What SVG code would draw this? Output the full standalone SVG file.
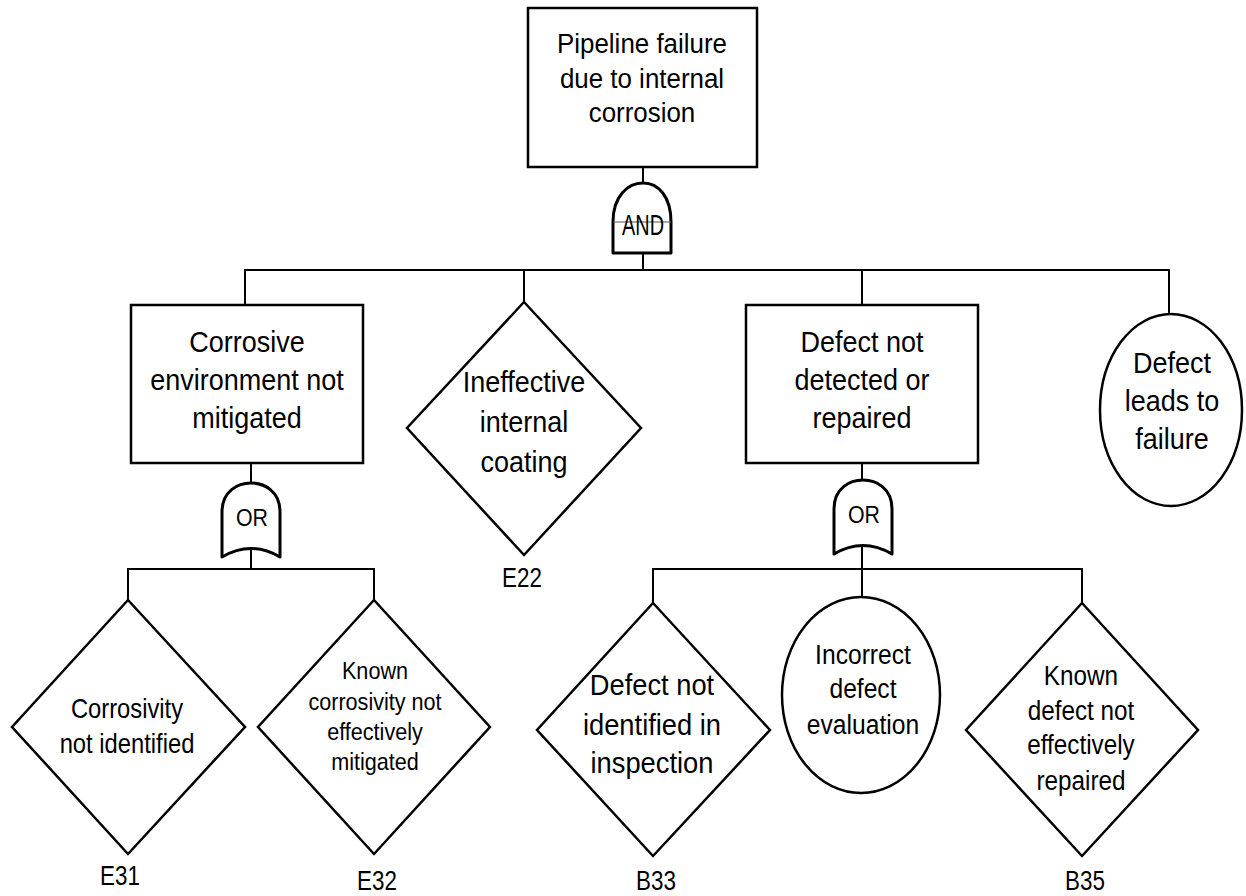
<svg xmlns="http://www.w3.org/2000/svg" width="1246" height="896" viewBox="0 0 1246 896">
<style>
  .shape { fill: #ffffff; stroke: #000000; stroke-width: 2.5; }
  .gate { fill: #ffffff; stroke: #000000; stroke-width: 3; stroke-linejoin: round; }
  .conn { fill: none; stroke: #000000; stroke-width: 2; }
  text { font-family: "Liberation Sans", Arial, sans-serif; fill: #000000; text-anchor: middle; }
  .t27 { font-size: 27px; }
  .t30 { font-size: 30px; }
  .t28 { font-size: 28px; }
  .t24 { font-size: 24px; }
  .lbl { font-size: 27px; }
</style>
<defs>
  <path id="orgate" d="M-29,74 L-29,29 C-29,8 -13,0 0,0 C13,0 29,8 29,29 L29,74 Q0,57 -29,74 Z"/>
</defs>

<g id="connectors">
  <path class="conn" d="M643,167 V183"/>
  <path class="conn" d="M643,253 V270"/>
  <path class="conn" d="M245,305 V270 H1169 V313"/>
  <path class="conn" d="M524,270 V302"/>
  <path class="conn" d="M862,270 V305"/>
  <path class="conn" d="M251,463 V483"/>
  <path class="conn" d="M251,549 V569"/>
  <path class="conn" d="M128,600 V569 H374 V600"/>
  <path class="conn" d="M862,463 V480"/>
  <path class="conn" d="M862,546 V597"/>
  <path class="conn" d="M653,603 V569 H1082 V603"/>
</g>

<g id="top-event">
  <rect class="shape" x="528" y="8" width="229" height="159"/>
  <g transform="translate(642 0) scale(0.96 1) translate(-642 0)">
    <text class="t27" x="642" y="53">Pipeline failure</text>
    <text class="t27" x="642" y="88">due to internal</text>
    <text class="t27" x="642" y="122">corrosion</text>
  </g>
</g>

<g id="and-gate">
  <path class="gate" d="M613,253 L613,222 C613,196 628,183 643,183 C658,183 671,196 671,222 L671,253 Z"/>
  <line x1="613" y1="222" x2="671" y2="222" stroke="#555555" stroke-width="1"/>
  <text x="643" y="235" style="font-size:29px" textLength="42" lengthAdjust="spacingAndGlyphs">AND</text>
</g>

<g id="corrosive-env">
  <rect class="shape" x="131" y="305" width="232" height="158"/>
  <g transform="translate(247 0) scale(0.9 1) translate(-247 0)">
    <text class="t30" x="247" y="352">Corrosive</text>
    <text class="t30" x="247" y="390">environment not</text>
    <text class="t30" x="247" y="428">mitigated</text>
  </g>
</g>

<g id="or-gate-left">
  <use href="#orgate" class="gate" transform="translate(251,483)"/>
  <text x="252" y="526" style="font-size:24px" textLength="32" lengthAdjust="spacingAndGlyphs">OR</text>
</g>

<g id="e22">
  <polygon class="shape" points="524,302 641,428 524,555 407,428"/>
  <g transform="translate(524 0) scale(0.9 1) translate(-524 0)">
    <text class="t30" x="524" y="392">Ineffective</text>
    <text class="t30" x="524" y="432">internal</text>
    <text class="t30" x="524" y="472">coating</text>
  </g>
  <g transform="translate(522 0) scale(0.83 1) translate(-522 0)">
    <text class="lbl" x="522" y="587">E22</text>
  </g>
</g>

<g id="defect-not-detected">
  <rect class="shape" x="746" y="305" width="232" height="158"/>
  <g transform="translate(862 0) scale(0.9 1) translate(-862 0)">
    <text class="t30" x="862" y="352">Defect not</text>
    <text class="t30" x="862" y="390">detected or</text>
    <text class="t30" x="862" y="428">repaired</text>
  </g>
</g>

<g id="or-gate-right">
  <use href="#orgate" class="gate" transform="translate(863,480)"/>
  <text x="864" y="523" style="font-size:24px" textLength="32" lengthAdjust="spacingAndGlyphs">OR</text>
</g>

<g id="defect-leads">
  <ellipse class="shape" cx="1171" cy="410" rx="71" ry="96"/>
  <g transform="translate(1172 0) scale(0.9 1) translate(-1172 0)">
    <text class="t30" x="1172" y="373">Defect</text>
    <text class="t30" x="1172" y="411">leads to</text>
    <text class="t30" x="1172" y="449">failure</text>
  </g>
</g>

<g id="e31">
  <polygon class="shape" points="128,600 245,727 128,854 12,727"/>
  <g transform="translate(127 0) scale(0.88 1) translate(-127 0)">
    <text class="t27" x="127" y="718">Corrosivity</text>
    <text class="t27" x="127" y="753">not identified</text>
  </g>
  <g transform="translate(120 0) scale(0.83 1) translate(-120 0)">
    <text class="lbl" x="120" y="885">E31</text>
  </g>
</g>

<g id="e32">
  <polygon class="shape" points="374,600 490,727 374,854 258,727"/>
  <g transform="translate(375 0) scale(0.9 1) translate(-375 0)">
    <text class="t24" x="375" y="679">Known</text>
    <text class="t24" x="375" y="710">corrosivity not</text>
    <text class="t24" x="375" y="740">effectively</text>
    <text class="t24" x="375" y="770">mitigated</text>
  </g>
  <g transform="translate(377 0) scale(0.83 1) translate(-377 0)">
    <text class="lbl" x="377" y="890">E32</text>
  </g>
</g>

<g id="b33">
  <polygon class="shape" points="653,603 770,730 653,856 537,730"/>
  <g transform="translate(652 0) scale(0.91 1) translate(-652 0)">
    <text class="t30" x="652" y="695">Defect not</text>
    <text class="t30" x="652" y="735">identified in</text>
    <text class="t30" x="652" y="773">inspection</text>
  </g>
  <g transform="translate(656 0) scale(0.83 1) translate(-656 0)">
    <text class="lbl" x="656" y="890">B33</text>
  </g>
</g>

<g id="incorrect-eval">
  <ellipse class="shape" cx="861" cy="695" rx="79" ry="98"/>
  <g transform="translate(863 0) scale(0.88 1) translate(-863 0)">
    <text class="t28" x="863" y="664">Incorrect</text>
    <text class="t28" x="863" y="698">defect</text>
    <text class="t28" x="863" y="734">evaluation</text>
  </g>
</g>

<g id="b35">
  <polygon class="shape" points="1082,603 1198,730 1082,856 966,730"/>
  <g transform="translate(1081 0) scale(0.9 1) translate(-1081 0)">
    <text class="t27" x="1081" y="685">Known</text>
    <text class="t27" x="1081" y="720">defect not</text>
    <text class="t27" x="1081" y="754">effectively</text>
    <text class="t27" x="1081" y="790">repaired</text>
  </g>
  <g transform="translate(1085 0) scale(0.83 1) translate(-1085 0)">
    <text class="lbl" x="1085" y="890">B35</text>
  </g>
</g>
</svg>
